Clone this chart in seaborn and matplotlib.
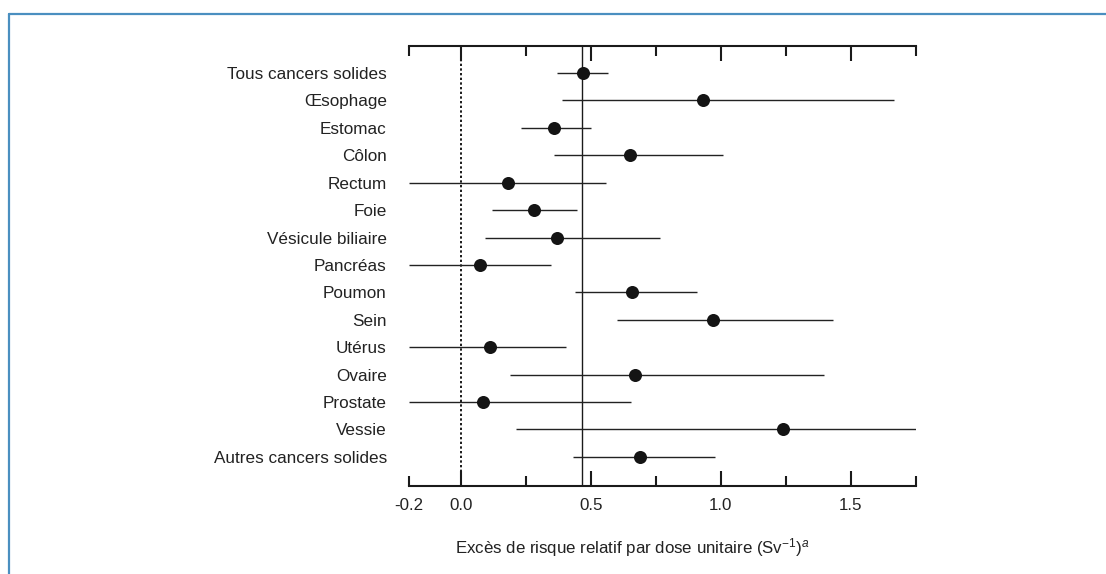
import matplotlib
matplotlib.use("Agg")
import matplotlib.pyplot as plt
from matplotlib.lines import Line2D
from matplotlib.ticker import FixedLocator
import seaborn as sns
import pandas as pd
import numpy as np

categories = ["Tous cancers solides", "Œsophage", "Estomac", "Côlon", "Rectum",
              "Foie", "Vésicule biliaire", "Pancréas", "Poumon", "Sein",
              "Utérus", "Ovaire", "Prostate", "Vessie", "Autres cancers solides"]
estimate = [0.47, 0.93, 0.36, 0.65, 0.18, 0.28, 0.37, 0.075, 0.66, 0.97,
            0.11, 0.67, 0.085, 1.24, 0.69]
lower = [0.37, 0.39, 0.23, 0.36, -0.2, 0.12, 0.094, -0.2, 0.44, 0.60,
         -0.2, 0.19, -0.2, 0.21, 0.43]
upper = [0.565, 1.665, 0.50, 1.01, 0.557, 0.446, 0.765, 0.348, 0.909, 1.432,
         0.404, 1.398, 0.656, 1.75, 0.976]
reference_value = 0.467
major_ticks = [0.0, 0.5, 1.0, 1.5]
major_labels = ["0.0", "0.5", "1.0", "1.5"]
minor_ticks = [-0.2, 0.25, 0.75, 1.25, 1.75]
minor_labels = ["-0.2", "", "", "", ""]
xlabel = "Excès de risque relatif par dose unitaire (Sv$^{-1}$)$^{a}$"

sns.set_theme(style="white")
plt.rcParams["font.family"] = ["Liberation Sans", "DejaVu Sans"]
plt.rcParams["mathtext.fontset"] = "custom"
plt.rcParams["mathtext.rm"] = "Liberation Sans"
plt.rcParams["mathtext.it"] = "Liberation Sans:italic"

df = pd.DataFrame({"cat": categories, "pos": np.arange(len(categories)),
                   "est": estimate, "lo": lower, "hi": upper})

W, H = 1106, 574
fig = plt.figure(figsize=(W / 100, H / 100), dpi=100)
ax = fig.add_axes([409 / W, 1 - 485.6 / H, (915.6 - 409) / W, (485.6 - 45.6) / H])

ink = "#1a1a1a"
ax.axvline(0.0, color=ink, lw=1.4, ls=(0, (1.2, 1.2)), zorder=1)
ax.axvline(reference_value, color=ink, lw=1.0, zorder=1)
ax.hlines(df["pos"], df["lo"], df["hi"], color="#222222", lw=1.0, zorder=2)
sns.scatterplot(data=df, x="est", y="pos", ax=ax, s=88, color="#141414",
                edgecolor="#141414", linewidth=0, zorder=3, legend=False)

ax.set_xlim(-0.2, 1.75)
ax.set_ylim(15.05, -1.0)
ax.set_yticks(df["pos"])
ax.set_yticklabels(categories, fontsize=12.3, color="#222222")
ax.tick_params(axis="y", length=0, pad=16)

ax.set_xticks(major_ticks)
ax.set_xticklabels(major_labels, fontsize=12.2, color="#222222")
ax.xaxis.set_minor_locator(FixedLocator(minor_ticks))
ax.set_xticks(minor_ticks, minor_labels, minor=True, fontsize=12.2, color="#222222")
ax.tick_params(axis="x", which="both", direction="in", top=True, bottom=True,
               color=ink, width=1.5, pad=9)
ax.tick_params(axis="x", which="major", length=11)
ax.tick_params(axis="x", which="minor", length=7)

for side in ["left", "right"]:
    ax.spines[side].set_visible(False)
for side in ["top", "bottom"]:
    ax.spines[side].set_color(ink)
    ax.spines[side].set_linewidth(1.5)

ax.set_ylabel("")
ax.set_xlabel(xlabel, fontsize=12.2, color="#222222")
ax.xaxis.set_label_coords((632 - 409) / (915.6 - 409), -0.115)
ax.grid(False)

frame_color = "#4a8fc0"
fig.add_artist(Line2D([8.5 / W, 8.5 / W], [0, 1 - 14 / H], transform=fig.transFigure,
                      color=frame_color, lw=1.6))
fig.add_artist(Line2D([8.5 / W, 1.0], [1 - 14 / H, 1 - 14 / H], transform=fig.transFigure,
                      color=frame_color, lw=1.6))

fig.savefig("out.png", dpi=100)
